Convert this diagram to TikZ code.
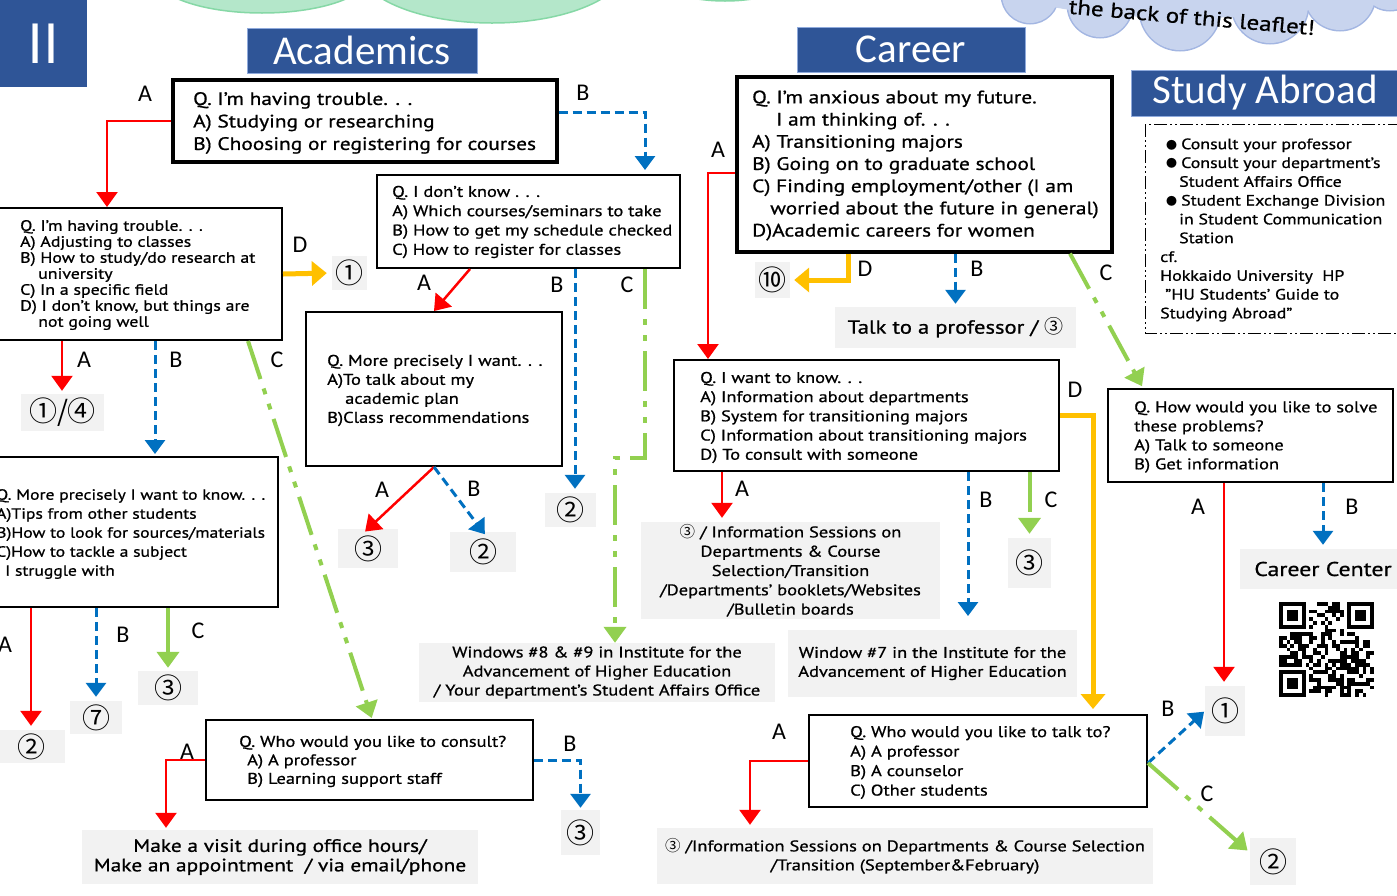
\documentclass[tikz,border=0pt]{standalone}
\usepackage{fontspec}
\setmainfont{PT Sans}[FakeStretch=1.19,FakeBold=0.8]
\newfontfamily\cjk{Noto Sans CJK JP}
\newfontfamily\ttl{Carlito}
\usetikzlibrary{arrows.meta,calc}
\definecolor{hdblue}{HTML}{2F5597}
\definecolor{hdedge}{HTML}{8FAADC}
\definecolor{ared}{HTML}{FF0000}
\definecolor{ablue}{HTML}{0070C0}
\definecolor{agreen}{HTML}{92D050}
\definecolor{ayel}{HTML}{FFC000}
\definecolor{gbox}{HTML}{F2F2F2}
\definecolor{cgreen}{HTML}{B4E7CA}
\definecolor{cgreenE}{HTML}{86D8A6}
\definecolor{cblue}{HTML}{C8D4EE}
\definecolor{cblueE}{HTML}{A3B6E2}
\tikzset{
  qb/.style={draw=black, line width=2pt, fill=white, inner sep=0pt},
  qbb/.style={qb, line width=3.2pt},
  tx/.style={inner sep=0pt, align=left, anchor=west},
  gb/.style={fill=gbox, inner sep=0pt, align=center},
  num/.style={gb, font=\cjk\fontsize{28}{28}\selectfont},
  hd/.style={fill=hdblue, draw=hdedge, line width=1pt, text=white, inner sep=0pt, font=\ttl\fontsize{41}{41}\selectfont},
  lab/.style={inner sep=0pt, font=\ttl\fontsize{24}{24}\selectfont},
  ra/.style={draw=ared, line width=2.5pt, -{Triangle[width=21pt,length=15pt]}},
  ba/.style={draw=ablue, line width=3pt, dash pattern=on 9pt off 5pt, -{Triangle[width=20pt,length=14pt]}},
  ga/.style={draw=agreen, line width=4pt, dash pattern=on 40pt off 10pt on 6pt off 10pt on 6pt off 10pt, -{Triangle[width=22pt,length=16pt]}},
  gs/.style={draw=agreen, line width=4pt, -{Triangle[width=22pt,length=16pt]}},
  ya/.style={draw=ayel, line width=5pt, -{Triangle[width=24pt,length=15pt]}},
}
\newcommand{\fs}[2]{\fontsize{#1}{#2}\selectfont}
\newcommand{\cn}[1]{{\cjk #1}}
\newcommand{\sq}{\symbol{"22}}
\begin{document}
\begin{tikzpicture}[x=1pt,y=-1pt]
\useasboundingbox (0,0) rectangle (1397,895);
\clip (0,0) rectangle (1397,895);
\fill[white] (0,0) rectangle (1397,895);
% green clouds
\filldraw[fill=cgreen, draw=cgreenE, line width=1.5pt] (262,-25) ellipse [x radius=108, y radius=38];
\filldraw[fill=cgreen, draw=cgreenE, line width=1.5pt] (492,-35) ellipse [x radius=135, y radius=58];
\filldraw[fill=cgreen, draw=cgreenE, line width=1.5pt] (725,-40) ellipse [x radius=88, y radius=41];
% blue cloud
\foreach \cx/\cy/\cr in {1030/-5/28, 1100/5/32, 1180/10/40, 1270/5/38, 1340/-5/35, 1390/-20/30}
  \draw[cblueE, line width=3pt] (\cx,\cy) circle [radius=\cr];
\foreach \cx/\cy/\cr in {1030/-5/28, 1100/5/32, 1180/10/40, 1270/5/38, 1340/-5/35, 1390/-20/30}
  \fill[cblue] (\cx,\cy) circle [radius=\cr];
\fill[cblue] (1190,-20) ellipse [x radius=195, y radius=38];
\node[inner sep=0pt, rotate=-5, font=\fs{21}{21}] (cloudtxt) at (1192,17) {the back of this leaflet!};
\node[inner sep=0pt, rotate=-5, font=\fs{21}{21}] (cloudon) at (1296,-14) {on};
% headers
\node[hd, minimum width=87pt, minimum height=87pt, draw=none, font=\cjk\fs{54}{54}] (roman) at (43.5,43.5) {Ⅱ};
\node[hd, minimum width=230pt, minimum height=45pt] (hacad) at (362,50.5) {Academics};
\node[hd, minimum width=228pt, minimum height=45pt] (hcar) at (911,49.5) {Career};
\node[hd, minimum width=268pt, minimum height=46pt] (hsa) at (1265,93) {Study Abroad};

% ===== Academics =====
\node[qbb, minimum width=384pt, minimum height=82pt] (q1) at (365,121) {};
\node[tx, font=\fs{18}{22.5}] (q1t) at (193,123) {Q. I’m having trouble. . .\\A) Studying or researching\\B) Choosing or registering for courses};

\node[qb, minimum width=284pt, minimum height=132pt] (q2) at (140,274) {};
\node[tx, font=\fs{15}{16}] (q2t) at (20,275) {Q. I’m having trouble. . .\\A) Adjusting to classes\\B) How to study/do research at\\\hspace*{18pt}university\\C) In a specific field\\D) I don’t know, but things are\\\hspace*{18pt}not going well};

\node[qb, minimum width=303pt, minimum height=93pt] (q3) at (528.5,221.5) {};
\node[tx, font=\fs{15.5}{19.3}] (q3t) at (392,222) {Q. I don’t know . . .\\A) Which courses/seminars to take\\B) How to get my schedule checked\\C) How to register for classes};

\node[qb, minimum width=256pt, minimum height=154pt] (q4) at (434,389) {};
\node[tx, font=\fs{15.5}{19}] (q4t) at (327,390.5) {Q. More precisely I want. . .\\A)To talk about my\\\hspace*{18pt}academic plan\\B)Class recommendations};

\node[qb, minimum width=283pt, minimum height=150pt] (q5) at (136.5,532) {};
\node[tx, font=\fs{14.8}{19}] (q5t) at (-4,534) {Q. More precisely I want to know. . .\\A)Tips from other students\\B)How to look for sources/materials\\C)How to tackle a subject\\\hspace*{9pt}I struggle with};

\node[qb, minimum width=327pt, minimum height=80pt] (q6) at (369.5,760) {};
\node[tx, font=\fs{15.5}{18.5}] (q6t) at (239,761.5) {Q. Who would you like to consult?\\\hspace*{8pt}A) A professor\\\hspace*{8pt}B) Learning support staff};

% gray answer boxes (academics)
\node[num, minimum width=35pt, minimum height=34pt] (n1) at (349.5,273) {①};
\node[num, minimum width=83pt, minimum height=37pt] (n14) at (62.5,412.5) {①/④};
\node[num, minimum width=60pt, minimum height=39pt] (n3a) at (368,548.5) {③};
\node[num, minimum width=66pt, minimum height=40pt] (n2a) at (483,552) {②};
\node[num, minimum width=51pt, minimum height=34pt] (n2b) at (570.5,510) {②};
\node[num, minimum width=67pt, minimum height=33pt] (n2c) at (31.5,746.5) {②};
\node[num, minimum width=52pt, minimum height=33pt] (n7) at (96,717.5) {⑦};
\node[num, minimum width=60pt, minimum height=34pt] (n3b) at (168,688) {③};
\node[num, minimum width=39pt, minimum height=45pt] (n3c) at (580.5,832.5) {③};
\node[gb, minimum width=396pt, minimum height=54pt, font=\fs{18}{19.5}] (visit) at (280,857) {Make a visit during office hours/\\Make an appointment \ / via email/phone};
\node[gb, minimum width=356pt, minimum height=59pt, font=\fs{15.5}{19}] (win89) at (597,672.5) {Windows \#8 \& \#9 in Institute for the\\Advancement of Higher Education\\/ Your department’s Student Affairs Office};

% academics connectors
\draw[ra] (q1.west) -| ([xshift=-33pt]q2.north);
\draw[ba, shorten >=4pt] ([yshift=9pt]q1.east) -| ([xshift=116.5pt]q3.north);
\draw[ya, shorten >=5pt] (q2.east) -- (n1.west);
\draw[ra, shorten >=3pt] ([xshift=-78pt]q2.south) -- ([xshift=-78pt]q2.south |- n14.north);
\draw[ba, shorten >=2pt] ([xshift=15pt]q2.south) -- ([xshift=15pt]q2.south |- q5.north);
\draw[ga, shorten >=1pt] ([xshift=108pt]q2.south) -- ([xshift=2.5pt]q6.north);
\draw[ra] ([xshift=-58.5pt]q3.south) -- (q4.north);
\draw[ba, shorten >=4pt] ([xshift=46.5pt]q3.south) -- ([xshift=46.5pt]q3.south |- n2b.north);
\draw[ga] ([xshift=116.5pt]q3.south) -- ++(0,189) -- ++(-30,0) -- ([xshift=18pt]win89.north);
\draw[ra, shorten >=-4pt] (q4.south) -- (n3a.north);
\draw[ba, shorten >=-3pt] (q4.south) -- (n2a.north);
\draw[ra, shorten >=4pt] ([xshift=-105.5pt]q5.south) -- ([xshift=-105.5pt]q5.south |- n2c.north);
\draw[ba, shorten >=4pt] (q5.south -| n7.north) -- (n7.north);
\draw[gs, shorten >=3pt] (q5.south -| n3b.north) -- (n3b.north);
\draw[ra, shorten >=2pt] (q6.west) -| ([xshift=-114pt]visit.north);
\draw[ba, shorten >=2pt] (q6.east) -| (n3c.north);

% academics labels
\node[lab] (la1) at (145,94) {A};
\node[lab] (lb1) at (583,93) {B};
\node[lab] (ld2) at (300,245) {D};
\node[lab] (la2) at (84,360) {A};
\node[lab] (lb2) at (176,360) {B};
\node[lab] (lc2) at (277,360) {C};
\node[lab] (la3) at (424,283) {A};
\node[lab] (lb3) at (557,285) {B};
\node[lab] (lc3) at (627,285) {C};
\node[lab] (la4) at (382,490) {A};
\node[lab] (lb4) at (474,489) {B};
\node[lab] (la5) at (5,645) {A};
\node[lab] (lb5) at (123,635) {B};
\node[lab] (lc5) at (198,631) {C};
\node[lab] (la6) at (187,752) {A};
\node[lab] (lb6) at (570,744) {B};

% ===== Career =====
\node[qbb, minimum width=375pt, minimum height=175pt] (cq) at (924.5,164.5) {};
\node[tx, font=\fs{18}{22.2}] (cqt) at (752,165.5) {Q. I’m anxious about my future.\\\hspace*{24pt}I am thinking of. . .\\A) Transitioning majors\\B) Going on to graduate school\\C) Finding employment/other (I am\\\hspace*{18pt}worried about the future in general)\\D)Academic careers for women};

\node[qb, minimum width=385pt, minimum height=111pt] (q7) at (866.5,415.5) {};
\node[tx, font=\fs{15.5}{19.2}] (q7t) at (700,417.5) {Q. I want to know. . .\\A) Information about departments\\B) System for transitioning majors\\C) Information about transitioning majors\\D) To consult with someone};

\node[qb, minimum width=338pt, minimum height=92pt] (q8) at (978,761) {};
\node[tx, font=\fs{15.5}{19.5}] (q8t) at (850,762.5) {Q. Who would you like to talk to?\\A) A professor\\B) A counselor\\C) Other students};

\node[qb, minimum width=285pt, minimum height=93pt] (saq) at (1250.5,435.5) {};
\node[tx, font=\fs{15.5}{19}] (saqt) at (1134,437) {Q. How would you like to solve\\these problems?\\A) Talk to someone\\B) Get information};

\node[num, minimum width=35pt, minimum height=36pt] (n10) at (772.5,280) {⑩};
\node[gb, minimum width=241pt, minimum height=41pt, font=\fs{19}{19}] (talk) at (955.5,327.5) {Talk to a professor / \cn{③}};
\node[gb, minimum width=299pt, minimum height=97pt, font=\fs{15.5}{19.3}] (info1) at (790.5,570.5) {\cn{③} / Information Sessions on\\Departments \& Course\\Selection/Transition\\/Departments’ booklets/Websites\\/Bulletin boards};
\node[num, minimum width=43pt, minimum height=50pt] (n3d) at (1029.5,563) {③};
\node[gb, minimum width=289pt, minimum height=67pt, font=\fs{15.5}{19}] (win7) at (932.5,663.5) {Window \#7 in the Institute for the\\Advancement of Higher Education};
\node[gb, minimum width=496pt, minimum height=56pt, font=\fs{15.5}{19}] (info2) at (905,856) {\cn{③} /Information Sessions on Departments \& Course Selection\\/Transition (September\&February)};
\coordinate (b7end) at (968,616);

\draw[ra] ([yshift=-8.5pt]cq.west) -| ([xshift=-158.5pt]q7.north);
\draw[ya, shorten >=4pt] ([xshift=-76.5pt]cq.south) |- (n10.east);
\draw[ba, shorten >=3pt] (cq.south -| talk.north) -- (talk.north);
\draw[ga, shorten >=2pt] ([xshift=145.5pt]cq.south) -- ([xshift=-107.5pt]saq.north);
\draw[ra, shorten >=4pt] ([xshift=-144.5pt]q7.south) -- ([xshift=-144.5pt]q7.south |- info1.north);
\draw[ba] ([xshift=101.5pt]q7.south) -- (b7end);
\draw[ga, shorten >=4pt] (q7.south -| n3d.north) -- (n3d.north);
\draw[ya, shorten >=5pt] (q7.east) -| ([xshift=115pt]q8.north);
\draw[ra, shorten >=3pt] (q8.west) -| ([xshift=-155pt]info2.north);

\node[lab] (lac) at (718,150) {A};
\node[lab] (ldc) at (865,269) {D};
\node[lab] (lbc) at (977,269) {B};
\node[lab] (lcc) at (1106,273) {C};
\node[lab] (la7) at (742,489) {A};
\node[lab] (lb7) at (986,500) {B};
\node[lab] (lc7) at (1051,500) {C};
\node[lab] (ld7) at (1075,390) {D};
\node[lab] (la8) at (779,732) {A};
\node[lab] (lb8) at (1168,709) {B};
\node[lab] (lc8) at (1207,794) {C};

% ===== Study Abroad =====
\draw[black, line width=1pt, dash pattern=on 13pt off 3pt on 2pt off 3pt on 2pt off 3pt] (1145,124) rectangle (1402,333);
\node[tx, font=\fs{15}{18.8}] (sat) at (1160,230) {\hspace*{6pt}{\cjk\fs{11}{11}●}\hspace{4pt}Consult your professor\\\hspace*{6pt}{\cjk\fs{11}{11}●}\hspace{4pt}Consult your department’s\\\hspace*{19pt}Student Affairs Office\\\hspace*{6pt}{\cjk\fs{11}{11}●}\hspace{4pt}Student Exchange Division\\\hspace*{19pt}in Student Communication\\\hspace*{19pt}Station\\cf.\\Hokkaido University \ HP\\\hspace*{5pt}\sq HU Students’ Guide to\\Studying Abroad\sq};

\node[gb, minimum width=167pt, minimum height=40pt, font=\fs{20}{20}] (cc) at (1323,569) {Career Center};
\node[num, minimum width=40pt, minimum height=50pt] (n1b) at (1225,711) {①};
\node[num, minimum width=46pt, minimum height=47pt] (n2d) at (1273,861.5) {②};

\draw[ra, shorten >=4pt] ([xshift=-26.5pt]saq.south) -- ([xshift=-26.5pt]saq.south |- n1b.north);
\draw[ba, shorten >=4pt] ([xshift=72.5pt]saq.south) -- ([xshift=72.5pt]saq.south |- cc.north);
\draw[ba, shorten >=1pt] ([yshift=-2pt]q8.east) -- (n1b.west);
\draw[ga, shorten >=3pt] ([yshift=-2pt]q8.east) -- ([yshift=9pt]n2d.west);
\node[lab] (las) at (1198,507) {A};
\node[lab] (lbs) at (1352,507) {B};

% QR code
\begin{scope}[shift={(1279,602)}]
  \pgfmathsetseed{4711}
  \foreach \i in {0,...,24} {
    \foreach \j in {0,...,24} {
      \pgfmathtruncatemacro{\qsk}{((\i<8)&&(\j<8))||((\i>16)&&(\j<8))||((\i<8)&&(\j>16))}
      \pgfmathrandominteger{\qr}{0}{1}
      \ifnum\qsk=0 \ifnum\qr=1 \fill[black] (\i*3.8,\j*3.8) rectangle ++(3.85,3.85); \fi\fi
    }
  }
  \foreach \fx/\fy in {0/0, 68.4/0, 0/68.4} {
    \fill[black] (\fx,\fy) rectangle ++(26.6,26.6);
    \fill[white] (\fx+3.8,\fy+3.8) rectangle ++(19,19);
    \fill[black] (\fx+7.6,\fy+7.6) rectangle ++(11.4,11.4);
  }
\end{scope}
\end{tikzpicture}
\end{document}
